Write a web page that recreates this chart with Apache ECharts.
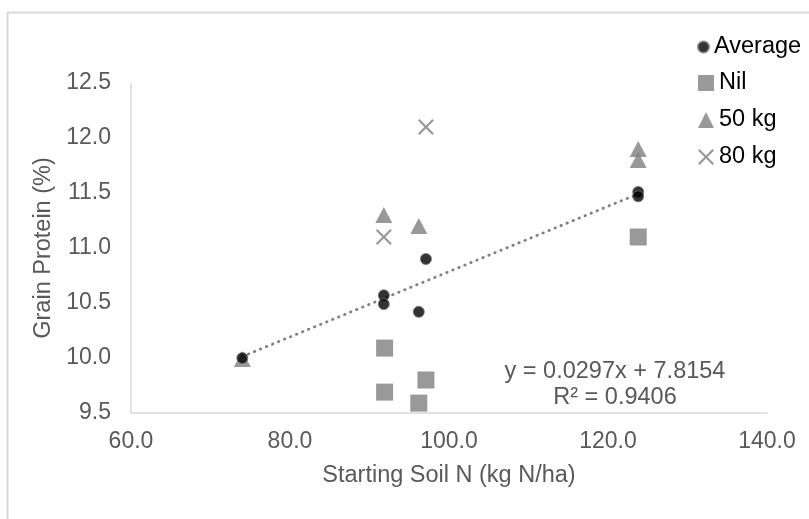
<!DOCTYPE html>
<html>
<head>
<meta charset="utf-8">
<script src="https://cdn.jsdelivr.net/npm/echarts@6/dist/echarts.min.js"></script>
<style>
html,body{margin:0;padding:0;background:#fff;}
#c{width:809px;height:519px;}
</style>
</head>
<body>
<div id="c"></div>
<script>
// Data
var avgPoints = [[74.0, 10.0], [91.8, 10.57], [91.8, 10.49], [96.2, 10.42], [97.1, 10.9], [123.8, 11.51], [123.8, 11.47]];
var nilPoints = [[91.9, 10.09], [91.9, 9.69], [96.2, 9.59], [97.1, 9.8], [123.8, 11.1]];
var kg50Points = [[74.0, 9.99], [91.8, 11.3], [96.2, 11.2], [123.8, 11.9], [123.8, 11.8]];
var kg80Points = [[91.8, 11.1], [97.1, 12.1]];
var trendSlope = 0.0297;
var trendIntercept = 7.8154;
var trendRange = [74.0, 123.8];
var equationText = 'y = 0.0297x + 7.8154';
var r2Text = 'R² = 0.9406';
var xTicks = { min: 60, max: 140, interval: 20 };
var yTicks = { min: 9.5, max: 12.5, interval: 0.5 };

var trendPoints = trendRange.map(function (x) { return [x, trendIntercept + trendSlope * x]; });

var FONT = 'Liberation Sans, Arial, sans-serif';
var GREY = '#808080';
var TXT = '#595959';
var crossPath = 'path://M0,1 L1,0 L5,4 L9,0 L10,1 L6,5 L10,9 L9,10 L5,6 L1,10 L0,9 L4,5 Z';

var chart = echarts.init(document.getElementById('c'), null, { renderer: 'canvas' });
chart.setOption({
  animation: false,
  backgroundColor: '#fff',
  grid: { left: 131, right: 42, top: 83, bottom: 106, containLabel: false },
  xAxis: {
    type: 'value', min: xTicks.min, max: xTicks.max, interval: xTicks.interval,
    name: 'Starting Soil N (kg N/ha)', nameLocation: 'middle', nameGap: 51,
    nameTextStyle: { color: TXT, fontSize: 23.5, fontFamily: FONT },
    axisLine: { show: true, lineStyle: { color: '#d9d9d9', width: 1.5 } },
    axisTick: { show: false },
    splitLine: { show: false },
    axisLabel: { color: TXT, fontSize: 23, fontFamily: FONT, margin: 17,
      formatter: function (v) { return v.toFixed(1); } }
  },
  yAxis: {
    type: 'value', min: yTicks.min, max: yTicks.max, interval: yTicks.interval,
    name: 'Grain Protein (%)', nameLocation: 'middle', nameGap: 72, nameRotate: 90,
    nameTextStyle: { color: TXT, fontSize: 23.5, fontFamily: FONT },
    axisLine: { show: true, lineStyle: { color: '#d9d9d9', width: 1.5 } },
    axisTick: { show: false },
    splitLine: { show: false },
    axisLabel: { color: TXT, fontSize: 23, fontFamily: FONT, margin: 20,
      formatter: function (v) { return v.toFixed(1); } }
  },
  legend: [
    {
      orient: 'vertical', left: 692, top: 30, itemWidth: 11, itemHeight: 11, itemGap: 13,
      textStyle: { color: '#000', fontSize: 23.5, fontFamily: FONT, lineHeight: 23 },
      data: [{ name: 'Average', icon: 'circle' }]
    },
    {
      orient: 'vertical', left: 693, top: 66, itemWidth: 16, itemHeight: 16, itemGap: 13,
      textStyle: { color: '#000', fontSize: 23.5, fontFamily: FONT, lineHeight: 23 },
      data: [
        { name: 'Nil', icon: 'rect' },
        { name: '50 kg', icon: 'triangle' },
        { name: '80 kg', icon: crossPath }
      ]
    }
  ],
  graphic: [
    { type: 'rect', silent: true, z: -10,
      shape: { x: 7.5, y: 12.5, width: 900, height: 600 },
      style: { fill: 'none', stroke: '#d9d9d9', lineWidth: 2 } },
    { type: 'text', x: 615, y: 372, silent: true,
      style: { text: equationText, fill: TXT, font: '23.5px ' + FONT, textAlign: 'center', textVerticalAlign: 'middle' } },
    { type: 'text', x: 615, y: 398, silent: true,
      style: { text: r2Text, fill: TXT, font: '23.5px ' + FONT, textAlign: 'center', textVerticalAlign: 'middle' } }
  ],
  series: [
    {
      name: 'Trend', type: 'line', data: trendPoints, symbol: 'none', silent: true, z: 1,
      lineStyle: { color: GREY, width: 2.8, type: [0.5, 6], cap: 'round' }
    },
    {
      name: 'Nil', type: 'scatter', data: nilPoints, symbol: 'rect', symbolSize: 17, z: 2,
      itemStyle: { color: GREY }
    },
    {
      name: '50 kg', type: 'scatter', data: kg50Points, symbol: 'triangle', symbolSize: [17, 16], z: 2,
      itemStyle: { color: GREY }
    },
    {
      name: '80 kg', type: 'scatter', data: kg80Points, symbol: crossPath, symbolSize: 16, z: 2,
      itemStyle: { color: GREY }
    },
    {
      name: 'Average', type: 'scatter', data: avgPoints, symbol: 'circle', symbolSize: 11, z: 3,
      itemStyle: { color: '#000', borderColor: '#6f6f6f', borderWidth: 1 }
    }
  ]
});
</script>
</body>
</html>
